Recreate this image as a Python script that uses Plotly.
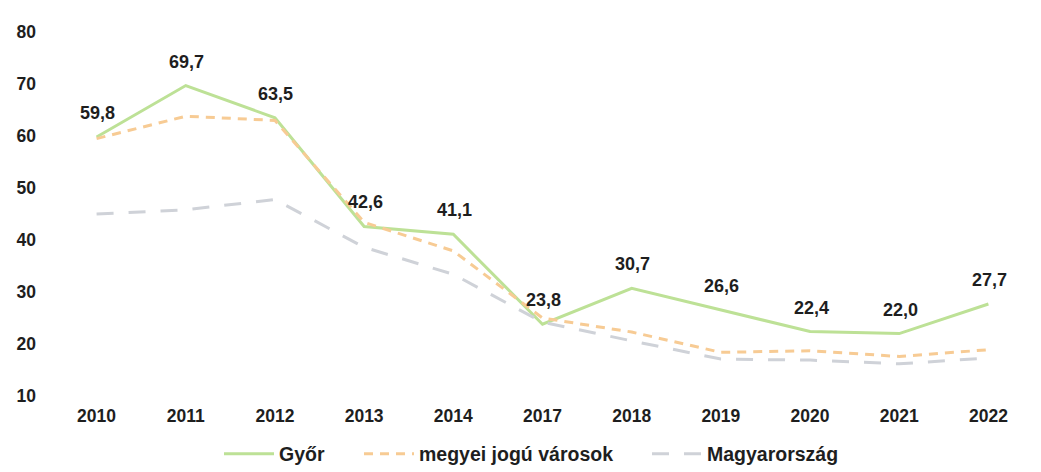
import plotly.graph_objects as go

years = ["2010", "2011", "2012", "2013", "2014", "2017", "2018", "2019", "2020", "2021", "2022"]
gyor = [59.8, 69.7, 63.5, 42.6, 41.1, 23.8, 30.7, 26.6, 22.4, 22.0, 27.7]
megyei = [59.5, 63.8, 63.0, 43.4, 37.9, 25.0, 22.3, 18.4, 18.7, 17.6, 18.9]
magyar = [45.0, 45.8, 47.8, 38.6, 33.4, 24.2, 20.6, 17.1, 16.9, 16.2, 17.3]
y_ticks = [10, 20, 30, 40, 50, 60, 70, 80]

FONT = "Liberation Sans, Arial, sans-serif"
TXT = "#1e1e1e"

L, R, T, B = 52, 8, 32, 76
PW = 1041 - L - R
PH = 472 - T - B

fig = go.Figure()
fig.add_trace(go.Scatter(x=years, y=gyor, name="Győr", mode="lines", legend="legend",
                         line=dict(color="#bde196", width=3)))
fig.add_trace(go.Scatter(x=years, y=megyei, name="megyei jogú városok", mode="lines", legend="legend2",
                         line=dict(color="#f7cb94", width=3, dash="9px,7px")))
fig.add_trace(go.Scatter(x=years, y=magyar, name="Magyarország", mode="lines", legend="legend3",
                         line=dict(color="#cfd2d8", width=3, dash="17px,15px")))

for i, v in enumerate(gyor):
    fig.add_annotation(x=i, y=v, text=f"{v:.1f}".replace(".", ","), showarrow=False,
                       yshift=24, xshift=1, font=dict(family=FONT, size=18, color=TXT, weight="bold"))

leg_common = dict(orientation="h", xanchor="left", y=-(454 - (T + PH)) / PH, yanchor="middle",
                  font=dict(family=FONT, size=19.5, color=TXT, weight="bold"),
                  itemwidth=50, bgcolor="rgba(0,0,0,0)")

fig.update_layout(
    width=1041, height=472,
    margin=dict(l=L, r=R, t=T, b=B, autoexpand=False),
    paper_bgcolor="white", plot_bgcolor="white",
    font=dict(family=FONT, color=TXT),
    showlegend=True,
    legend=dict(x=(219 - L) / PW, **leg_common),
    legend2=dict(x=(359 - L) / PW, **leg_common),
    legend3=dict(x=(647 - L) / PW, **leg_common),
    xaxis=dict(type="category", range=[-0.5, len(years) - 0.5], showgrid=False, zeroline=False,
               showline=False, tickfont=dict(family=FONT, size=17.5, color=TXT, weight="bold"),
               ticks="", ticklabelstandoff=7),
    yaxis=dict(range=[10, 80], tickvals=y_ticks, showgrid=False, zeroline=False,
               showline=False, tickfont=dict(family=FONT, size=17.5, color=TXT, weight="bold"),
               ticks="", ticklabelstandoff=15),
)

fig.write_html("out.html", config={"displayModeBar": False},
               post_script="document.body.style.margin='0';document.body.style.overflow='hidden';")
